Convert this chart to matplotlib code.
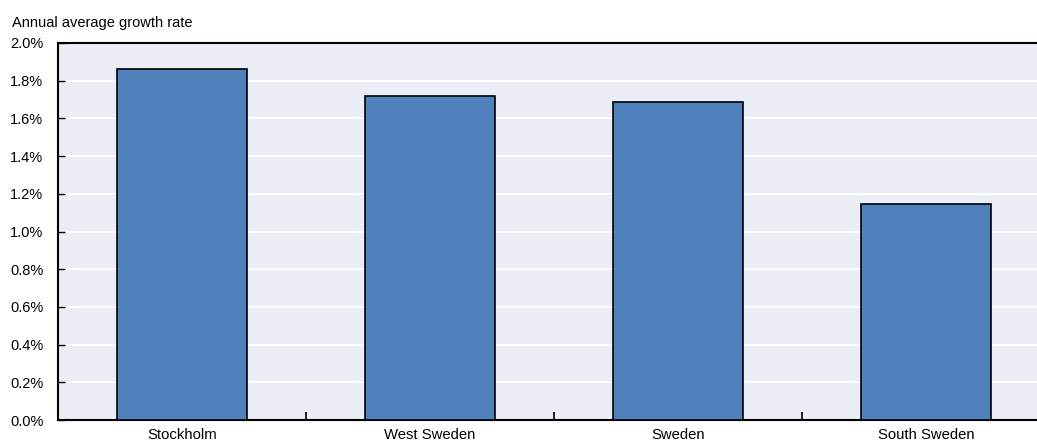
import matplotlib
matplotlib.use("Agg")
import matplotlib.pyplot as plt
from matplotlib.ticker import FuncFormatter, FixedLocator

regions = ["Stockholm", "West Sweden", "Sweden", "South Sweden"]
growth = [1.86, 1.72, 1.685, 1.145]
yticks = [0.0, 0.2, 0.4, 0.6, 0.8, 1.0, 1.2, 1.4, 1.6, 1.8, 2.0]

plt.rcParams["font.family"] = ["Liberation Sans", "DejaVu Sans"]

W, H = 1037, 442
fig = plt.figure(figsize=(W / 100, H / 100), dpi=100)
# the plot area runs on past the right edge of the figure
ax = fig.add_axes([58 / W, (H - 420) / H, (1050 - 58) / W, (420 - 43) / H])

ax.set_facecolor("#EBEEF6")
ax.bar(range(len(regions)), growth, width=0.526, color="#4F81BD",
       edgecolor="black", linewidth=1.2, zorder=3)

ax.set_xlim(-0.5, len(regions) - 0.5)
ax.set_ylim(0, 2.0)
ax.set_yticks(yticks)
ax.yaxis.set_major_formatter(FuncFormatter(lambda v, p: f"{v:.1f}%"))
ax.grid(axis="y", color="white", linewidth=1.3, zorder=1)
ax.set_axisbelow(True)

ax.set_xticks(range(len(regions)))
ax.set_xticklabels(regions, fontsize=10.7)
ax.tick_params(axis="x", length=0, pad=5.5)
ax.xaxis.set_minor_locator(FixedLocator([0.5, 1.5, 2.5]))
ax.tick_params(axis="x", which="minor", direction="in", length=6, width=1.2, color="black")
ax.tick_params(axis="y", direction="in", length=5, width=1, labelsize=10.5, pad=10.5)

for side in ("left", "top", "bottom"):
    ax.spines[side].set_color("black")
    ax.spines[side].set_linewidth(1.5)
ax.spines["right"].set_visible(False)

fig.text(12 / W, 1 - 27 / H, "Annual average growth rate", fontsize=10.5,
         ha="left", va="baseline")

fig.savefig("out.png", dpi=100)
